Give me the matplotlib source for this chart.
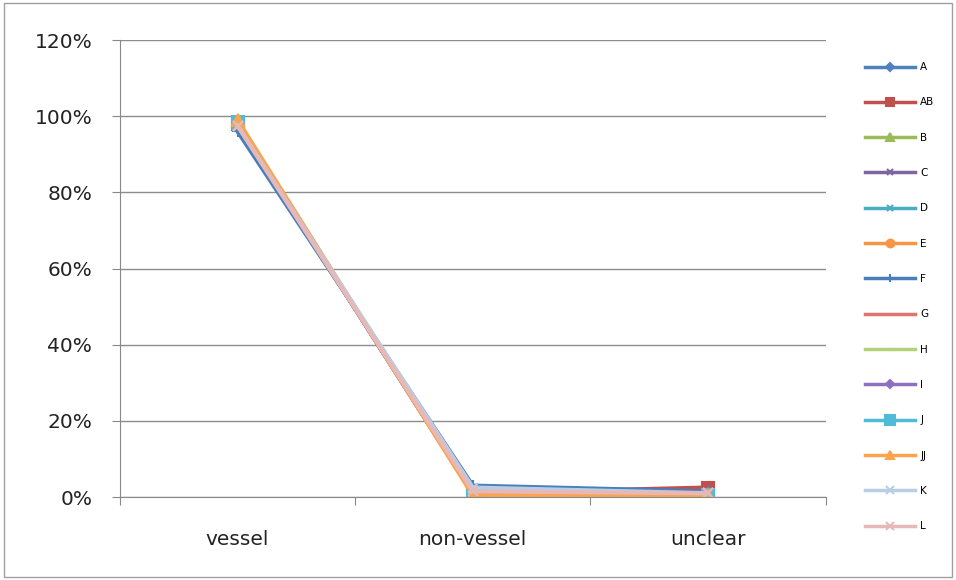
import matplotlib.pyplot as plt
from matplotlib.ticker import PercentFormatter
from matplotlib.patches import Rectangle

categories = ["vessel", "non-vessel", "unclear"]
series_names = ["A", "AB", "B", "C", "D", "E", "F", "G", "H", "I", "J", "JJ", "K", "L"]
values = {
    "A":  [0.975, 0.015, 0.020],
    "AB": [0.980, 0.010, 0.025],
    "B":  [0.980, 0.010, 0.010],
    "C":  [0.980, 0.010, 0.010],
    "D":  [0.980, 0.010, 0.010],
    "E":  [0.980, 0.010, 0.010],
    "F":  [0.960, 0.030, 0.015],
    "G":  [0.980, 0.010, 0.010],
    "H":  [0.980, 0.010, 0.010],
    "I":  [0.980, 0.010, 0.010],
    "J":  [0.985, 0.010, 0.005],
    "JJ": [0.990, 0.005, 0.005],
    "K":  [0.975, 0.025, 0.010],
    "L":  [0.975, 0.015, 0.010],
}
colors = ["#4F81BD", "#C0504D", "#9BBB59", "#8064A2", "#4BACC6", "#F79646",
          "#4A7EBB", "#E07370", "#B3D27A", "#8F6FBF", "#4FBBD8", "#FBA34E",
          "#B9CDE5", "#E6B9B8"]
markers = ["D", "s", "^", "x", "x", "o", "+", "_", "_", "D", "s", "^", "x", "x"]
msizes = [5, 8, 7, 6, 6, 7, 8, 5, 5, 5, 9, 8, 7, 7]

fig = plt.figure(figsize=(9.56, 5.8), dpi=100)
ax = fig.add_axes([0.1255, 0.143, 0.738, 0.788])

x = range(len(categories))
for name, c, m, ms in zip(series_names, colors, markers, msizes):
    ax.plot(x, values[name], color=c, marker=m, markersize=ms, linewidth=3,
            markeredgewidth=1.5, label=name)

ax.set_xlim(-0.5, 2.5)
ax.set_ylim(0, 1.2)
ax.set_yticks([0, 0.2, 0.4, 0.6, 0.8, 1.0, 1.2])
ax.yaxis.set_major_formatter(PercentFormatter(1.0, decimals=0))
ax.set_xticks([-0.5, 0.5, 1.5, 2.5])
ax.set_xticklabels([])
ax.set_xticks([0, 1, 2], minor=True)
ax.set_xticklabels(categories, minor=True)
ax.tick_params(axis="x", which="major", length=6, color="#888888", direction="out")
ax.tick_params(axis="x", which="minor", length=0, pad=24, labelsize=14.5,
               labelcolor="#222222")
ax.tick_params(axis="y", length=6, color="#888888", labelsize=14.5, pad=14,
               labelcolor="#222222")
ax.grid(axis="y", color="#8c8c8c", linewidth=1)
ax.set_axisbelow(True)
for s in ["top", "right"]:
    ax.spines[s].set_visible(False)
for s in ["left", "bottom"]:
    ax.spines[s].set_color("#888888")

leg = fig.legend(loc="upper left", bbox_to_anchor=(0.895, 0.909), frameon=False,
                 fontsize=7.5, labelspacing=2.43, handlelength=4.8, handletextpad=0.5,
                 markerscale=0.8)
for line in leg.get_lines():
    line.set_linewidth(2.5)

fig.patches.append(Rectangle((0.004, 0.006), 0.992, 0.988, transform=fig.transFigure,
                             fill=False, edgecolor="#a0a0a0", linewidth=1))

fig.savefig("out.png", dpi=100)
